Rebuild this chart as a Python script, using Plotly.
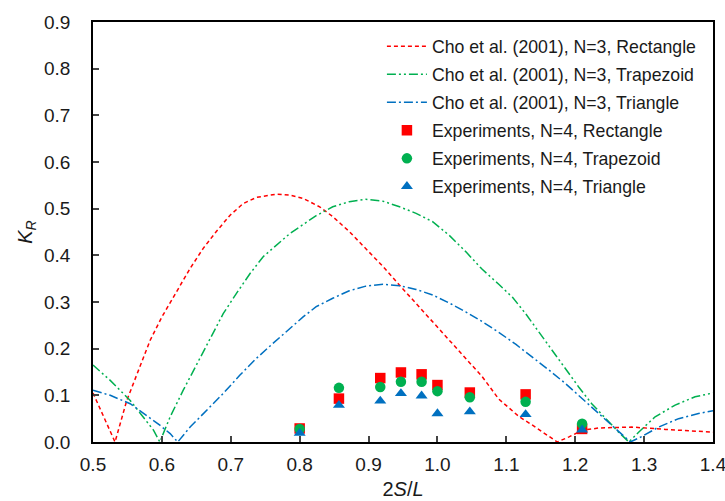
import plotly.graph_objects as go

# Theory curves (Cho et al. 2001, N=3)
rect_x = [0.500, 0.532, 0.549, 0.568, 0.583, 0.600, 0.622, 0.641, 0.660, 0.679, 0.699, 0.718, 0.737,
          0.766, 0.786, 0.805, 0.829, 0.848, 0.872, 0.896, 0.921, 0.945, 0.969, 0.993, 1.017, 1.041,
          1.065, 1.089, 1.109, 1.118, 1.138, 1.157, 1.174, 1.191, 1.210, 1.234, 1.262, 1.282, 1.331, 1.400]
rect_y = [0.105, 0.000, 0.089, 0.161, 0.218, 0.268, 0.325, 0.372, 0.415, 0.451, 0.486, 0.511, 0.524,
          0.531, 0.529, 0.522, 0.504, 0.483, 0.451, 0.415, 0.376, 0.336, 0.297, 0.257, 0.218, 0.179,
          0.140, 0.092, 0.066, 0.055, 0.036, 0.016, 0.000, 0.011, 0.025, 0.030, 0.032, 0.032, 0.027, 0.021]

trap_x = [0.500, 0.525, 0.554, 0.573, 0.588, 0.597, 0.612, 0.631, 0.651, 0.670, 0.689, 0.708, 0.728,
          0.747, 0.766, 0.786, 0.805, 0.824, 0.848, 0.872, 0.896, 0.921, 0.945, 0.969, 0.993, 1.017,
          1.041, 1.065, 1.089, 1.109, 1.128, 1.147, 1.167, 1.186, 1.205, 1.224, 1.244, 1.263, 1.278,
          1.292, 1.316, 1.345, 1.374, 1.400]
trap_y = [0.165, 0.132, 0.089, 0.054, 0.025, 0.000, 0.054, 0.111, 0.168, 0.222, 0.275, 0.318, 0.361,
          0.397, 0.422, 0.447, 0.466, 0.485, 0.504, 0.515, 0.520, 0.516, 0.504, 0.490, 0.472, 0.443,
          0.408, 0.370, 0.338, 0.310, 0.275, 0.236, 0.197, 0.157, 0.118, 0.082, 0.050, 0.021, 0.000,
          0.021, 0.054, 0.079, 0.097, 0.105]

tri_x = [0.500, 0.525, 0.554, 0.578, 0.597, 0.612, 0.623, 0.641, 0.665, 0.689, 0.713, 0.737, 0.761,
         0.786, 0.805, 0.824, 0.848, 0.872, 0.896, 0.921, 0.945, 0.969, 0.993, 1.017, 1.041, 1.065,
         1.089, 1.114, 1.138, 1.162, 1.186, 1.210, 1.234, 1.258, 1.280, 1.297, 1.321, 1.350, 1.379, 1.400]
tri_y = [0.111, 0.100, 0.082, 0.057, 0.036, 0.018, 0.000, 0.032, 0.068, 0.104, 0.143, 0.179, 0.211,
         0.243, 0.268, 0.290, 0.308, 0.324, 0.334, 0.338, 0.335, 0.327, 0.315, 0.298, 0.279, 0.258,
         0.235, 0.209, 0.182, 0.154, 0.125, 0.093, 0.061, 0.029, 0.000, 0.012, 0.032, 0.050, 0.061, 0.067]

# Experiments, N=4
exp_x = [0.800, 0.857, 0.917, 0.947, 0.977, 1.000, 1.047, 1.128, 1.210]
exp_rect = [0.029, 0.093, 0.137, 0.149, 0.145, 0.122, 0.106, 0.102, 0.028]
exp_trap = [0.028, 0.116, 0.118, 0.129, 0.129, 0.109, 0.096, 0.086, 0.039]
exp_tri = [0.019, 0.079, 0.088, 0.104, 0.099, 0.061, 0.065, 0.059, 0.026]

RED = "#FF0000"
GREEN = "#00B050"
BLUE = "#0070C0"
TXT = "#1a1a1a"

fig = go.Figure()
fig.add_trace(go.Scatter(x=rect_x, y=rect_y, mode="lines", name="Cho et al. (2001), N=3, Rectangle",
                         line=dict(color=RED, width=1.5, dash="4px,3px"), legendgroup="a"))
fig.add_trace(go.Scatter(x=trap_x, y=trap_y, mode="lines", name="Cho et al. (2001), N=3, Trapezoid",
                         line=dict(color=GREEN, width=1.5, dash="9px,3px,2px,3px,2px,3px"), legendgroup="b"))
fig.add_trace(go.Scatter(x=tri_x, y=tri_y, mode="lines", name="Cho et al. (2001), N=3, Triangle",
                         line=dict(color=BLUE, width=1.5, dash="9px,3px,2px,3px"), legendgroup="c"))
fig.add_trace(go.Scatter(x=exp_x, y=exp_rect, mode="markers", name="Experiments, N=4, Rectangle",
                         marker=dict(color=RED, symbol="square", size=10.5), legendgroup="d"))
fig.add_trace(go.Scatter(x=exp_x, y=exp_trap, mode="markers", name="Experiments, N=4, Trapezoid",
                         marker=dict(color=GREEN, symbol="circle", size=10.5), legendgroup="e"))
fig.add_trace(go.Scatter(x=exp_x, y=exp_tri, mode="markers", name="Experiments, N=4, Triangle",
                         marker=dict(color=BLUE, symbol="triangle-up", size=10.5), legendgroup="f"))

axis_common = dict(showgrid=False, zeroline=False, showline=True, linecolor="black", linewidth=1.5,
                   mirror=True, ticks="inside", ticklen=6, tickcolor="#444444", tickwidth=1.5,
                   ticklabeloverflow="allow",
                   tickfont=dict(family="Liberation Sans, Arial", size=19, color=TXT))

fig.update_layout(
    width=725, height=501,
    margin=dict(l=93, r=12, t=22, b=59, autoexpand=False),
    plot_bgcolor="white", paper_bgcolor="white",
    font=dict(family="Liberation Sans, Arial", color=TXT),
    xaxis=dict(range=[0.5, 1.4], dtick=0.1, tickformat=".1f", ticklabelstandoff=4,
               title=dict(text="2<i>S</i>/<i>L</i>", font=dict(size=20), standoff=8), **axis_common),
    yaxis=dict(range=[0, 0.9], dtick=0.1, tickformat=".1f", ticklabelstandoff=17,
               title=dict(text="<i>K</i><sub><i>R</i></sub>", font=dict(size=20), standoff=6), **axis_common),
    legend=dict(x=0.466, y=0.985, xanchor="left", yanchor="top", bgcolor="rgba(0,0,0,0)",
                font=dict(size=17.7, color=TXT), tracegroupgap=2, itemwidth=40),
    showlegend=True,
)

fig.write_html("out.html", config={"displayModeBar": False},
               post_script="document.body.style.margin='0';")
